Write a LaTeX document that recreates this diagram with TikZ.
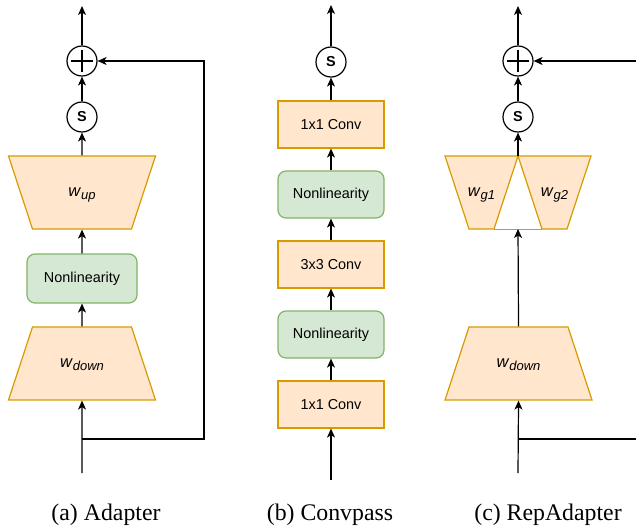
\documentclass[tikz,border=0pt]{standalone}
\usepackage{fontspec}
\setmainfont{Liberation Serif}
\setsansfont{Liberation Sans}
\usetikzlibrary{arrows.meta,shapes.geometric}

\definecolor{orfill}{HTML}{FFE6CC}
\definecolor{ordraw}{HTML}{D79B00}
\definecolor{grfill}{HTML}{D5E8D4}
\definecolor{grdraw}{HTML}{82B366}
\newcommand{\wlab}[1]{\makebox[0pt]{\fontsize{16.5}{18}\selectfont\textit{w}\raisebox{-3.5pt}{\fontsize{13}{15}\selectfont\textit{#1}}}}

\begin{document}
\begin{tikzpicture}[x=1pt,y=-1pt,node distance=70pt,line width=1.2pt,>={Stealth[length=9pt,width=8pt,inset=2.5pt]}]
\tikzstyle{txt}=[font=\sffamily\fontsize{14.4}{17}\selectfont]
\tikzstyle{convbox}=[txt, rectangle, minimum width=106pt, minimum height=47pt, draw=ordraw, fill=orfill]
\tikzstyle{nlbox}=[convbox, rounded corners=8pt, draw=grdraw, fill=grfill]
\tikzstyle{trap}=[txt, trapezium, inner sep=0pt, text height=40pt, text depth=33pt, align=center, draw=ordraw, fill=orfill]
\tikzstyle{trapdown}=[trap, trapezium angle=71.8, text width=99pt]
\tikzstyle{trapup}=[trap, trapezium angle=108.2, text width=99pt]
\tikzstyle{trapgrp}=[trap, trapezium angle=108.2, text width=25pt]
\tikzstyle{circnode}=[txt, circle, draw=black, minimum size=30pt, inner sep=0pt, font=\sffamily\bfseries\fontsize{14.4}{17}\selectfont]
\tikzstyle{plusnode}=[circnode, path picture={\draw[line width=1.6pt] ([yshift=-4pt]path picture bounding box.north) -- ([yshift=4pt]path picture bounding box.south) ([xshift=4pt]path picture bounding box.west) -- ([xshift=-4pt]path picture bounding box.east);}]
\tikzstyle{captxt}=[font=\fontsize{23.8}{28}\selectfont]
\useasboundingbox (0,0) rectangle (636,527);

% (a) Adapter
\node (a1) [trapdown] at (82,363.5) {\wlab{down}};
\node (a2) [nlbox, minimum width=110pt, minimum height=49pt] at (82,278.5) {Nonlinearity};
\node (a3) [trapup] at (82,192.5) {\wlab{up}};
\node (a4) [circnode] at (82,117) {S};
\node (a5) [plusnode] at (82,61) {};
\coordinate (ain) at (82,473);
\coordinate (aout) at (82,6);
\coordinate (abr) at (82,439);
\coordinate (ask) at (204,439);
\draw[->] (ain) -- (a1.south);
\draw[->] (a1.north) -- (a2.south);
\draw[->] (a2.north) -- (a3.south);
\draw[->] (a3.north) -- (a4.south);
\draw[->] (a4.north) -- (a5.south);
\draw[->] (a5.north) -- (aout);
\draw[->] (abr) -- (ask) |- (a5.east);
\node (acap) [captxt] at (106,515) {(a) Adapter};

% (b) Convpass
\node (b1) [convbox] at (331,404.5) {1x1 Conv};
\node (b2) [nlbox, above of=b1] {Nonlinearity};
\node (b3) [convbox, above of=b2] {3x3 Conv};
\node (b4) [nlbox, above of=b3] {Nonlinearity};
\node (b5) [convbox, above of=b4] {1x1 Conv};
\node (b6) [circnode] at (331,62) {S};
\coordinate (bin) at (331,480);
\coordinate (bout) at (331,5);
\draw[->] (bin) -- (b1.south);
\draw[->] (b1.north) -- (b2.south);
\draw[->] (b2.north) -- (b3.south);
\draw[->] (b3.north) -- (b4.south);
\draw[->] (b4.north) -- (b5.south);
\draw[->] (b5.north) -- (b6.south);
\draw[->] (b6.north) -- (bout);
\node (bcap) [captxt] at (330,515) {(b) Convpass};

% (c) RepAdapter
\node (c1) [trapdown] at (518.5,363.5) {\wlab{down}};
\node (c2) [trapgrp] at (481.5,192.5) {\wlab{g1}};
\node (c3) [trapgrp] at (554.5,192.5) {\wlab{g2}};
\draw[ordraw] (c2.bottom right corner) -- (c3.bottom left corner);
\node (c4) [circnode] at (518,117) {S};
\node (c5) [plusnode] at (518,61) {};
\coordinate (cg) at (518,156);
\coordinate (cgb) at (518,229);
\coordinate (cin) at (518,473);
\coordinate (cout) at (518,6);
\coordinate (cbr) at (518,439);
\coordinate (csk1) at (636,439);
\coordinate (csk2) at (636,61);
\draw[->] (cin) -- (c1.south);
\draw[->] (c1.north) -- (cgb);
\draw[->] (cg) -- (c4.south);
\draw[->] (c4.north) -- (c5.south);
\draw[->] (c5.north) -- (cout);
\draw (cbr) -- (csk1);
\draw[->] (csk2) -- (c5.east);
\node (ccap) [captxt] at (548,515) {(c) RepAdapter};
\end{tikzpicture}
\end{document}
